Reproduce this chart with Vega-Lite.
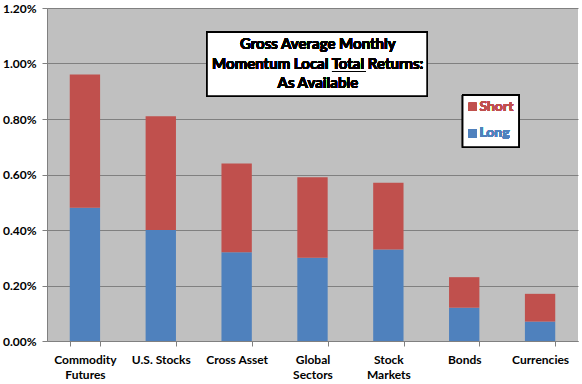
{
  "$schema": "https://vega.github.io/schema/vega-lite/v6.json",
  "autosize": "none",
  "width": 531,
  "height": 333,
  "padding": {"left": 47, "top": 8, "right": 4, "bottom": 43},
  "background": "white",
  "config": {
    "view": {"fill": "#C0C0C0", "stroke": null},
    "font": "Lato"
  },
  "data": {
    "values": [
      {"category": "Commodity Futures", "side": "Long", "ret": 0.0048},
      {"category": "Commodity Futures", "side": "Short", "ret": 0.0048},
      {"category": "U.S. Stocks", "side": "Long", "ret": 0.0040},
      {"category": "U.S. Stocks", "side": "Short", "ret": 0.0041},
      {"category": "Cross Asset", "side": "Long", "ret": 0.0032},
      {"category": "Cross Asset", "side": "Short", "ret": 0.0032},
      {"category": "Global Sectors", "side": "Long", "ret": 0.0030},
      {"category": "Global Sectors", "side": "Short", "ret": 0.0029},
      {"category": "Stock Markets", "side": "Long", "ret": 0.0033},
      {"category": "Stock Markets", "side": "Short", "ret": 0.0024},
      {"category": "Bonds", "side": "Long", "ret": 0.0012},
      {"category": "Bonds", "side": "Short", "ret": 0.0011},
      {"category": "Currencies", "side": "Long", "ret": 0.0007},
      {"category": "Currencies", "side": "Short", "ret": 0.0010}
    ]
  },
  "resolve": {"scale": {"x": "independent"}},
  "layer": [
    {
      "mark": {"type": "bar"},
      "encoding": {
        "x": {
          "field": "category", "type": "nominal", "sort": null,
          "scale": {"paddingInner": 0.6, "paddingOuter": 0.3},
          "axis": {
            "title": null, "labelAngle": 0, "labelFont": "Lato", "labelFontWeight": "bold",
            "labelFontSize": 12, "labelColor": "black", "labelPadding": 8, "labelLineHeight": 15,
            "domainColor": "#808080", "tickColor": "#808080", "tickBand": "extent", "tickSize": 5,
            "labelExpr": "!isValid(datum.value) ? '' : (indexof(['U.S. Stocks','Cross Asset'], datum.value) >= 0 ? datum.value : split(datum.value, ' '))"
          }
        },
        "y": {
          "field": "ret", "type": "quantitative", "stack": "zero",
          "scale": {"domain": [0, 0.012], "nice": false},
          "axis": {
            "title": null, "format": ".2%", "values": [0, 0.002, 0.004, 0.006, 0.008, 0.01, 0.012],
            "labelFont": "Lato", "labelFontWeight": "bold", "labelFontSize": 12, "labelColor": "black",
            "gridColor": "#808080", "gridWidth": 1, "domainColor": "#808080", "tickColor": "#808080",
            "tickSize": 5, "labelPadding": 6
          }
        },
        "color": {
          "field": "side", "type": "nominal",
          "scale": {"domain": ["Long", "Short"], "range": ["#4F81BD", "#C0504D"]},
          "legend": null
        },
        "order": {"field": "side", "sort": "ascending"}
      }
    },
    {
      "layer": [
        {
          "mark": {"type": "rect", "fill": "white", "stroke": "black", "strokeWidth": 1.5, "zindex": 2},
          "encoding": {
            "x": {"datum": 2.11, "type": "quantitative", "scale": {"domain": [0, 7], "nice": false, "zero": false}, "axis": null},
            "x2": {"datum": 5.01},
            "y": {"datum": 0.00883, "type": "quantitative"},
            "y2": {"datum": 0.01113}
          }
        },
        {
          "mark": {"type": "text", "font": "Lato", "fontWeight": "bold", "fontSize": 15, "align": "center", "baseline": "alphabetic", "fill": "black", "zindex": 3, "text": "Gross Average Monthly"},
          "encoding": {
            "x": {"datum": 3.57, "type": "quantitative"},
            "y": {"datum": 0.010511, "type": "quantitative"}
          }
        },
        {
          "mark": {"type": "text", "font": "Lato", "fontWeight": "bold", "fontSize": 15, "align": "center", "baseline": "alphabetic", "fill": "black", "zindex": 3, "text": "Momentum Local Total Returns:"},
          "encoding": {
            "x": {"datum": 3.57, "type": "quantitative"},
            "y": {"datum": 0.00979, "type": "quantitative"}
          }
        },
        {
          "mark": {"type": "text", "font": "Lato", "fontWeight": "bold", "fontSize": 15, "align": "center", "baseline": "alphabetic", "fill": "black", "zindex": 3, "text": "As Available"},
          "encoding": {
            "x": {"datum": 3.57, "type": "quantitative"},
            "y": {"datum": 0.009106, "type": "quantitative"}
          }
        },
        {
          "mark": {"type": "rule", "color": "black", "strokeWidth": 1.2, "zindex": 3},
          "encoding": {
            "x": {"datum": 3.757, "type": "quantitative"},
            "x2": {"datum": 4.2},
            "y": {"datum": 0.009712, "type": "quantitative"}
          }
        },
        {
          "mark": {"type": "rect", "fill": "white", "stroke": "black", "strokeWidth": 1.5, "zindex": 2},
          "encoding": {
            "x": {"datum": 5.48, "type": "quantitative"},
            "x2": {"datum": 6.22},
            "y": {"datum": 0.00699, "type": "quantitative"},
            "y2": {"datum": 0.00886}
          }
        },
        {
          "mark": {"type": "square", "size": 64, "opacity": 1, "filled": true, "zindex": 3},
          "encoding": {
            "x": {"datum": 5.61, "type": "quantitative"},
            "y": {"datum": 0.00844, "type": "quantitative"},
            "color": {"value": "#C0504D"}
          }
        },
        {
          "mark": {"type": "square", "size": 64, "opacity": 1, "filled": true, "zindex": 3},
          "encoding": {
            "x": {"datum": 5.61, "type": "quantitative"},
            "y": {"datum": 0.00748, "type": "quantitative"},
            "color": {"value": "#4F81BD"}
          }
        },
        {
          "mark": {"type": "text", "font": "Lato", "fontWeight": "bold", "fontSize": 14, "align": "left", "baseline": "middle", "text": "Short", "zindex": 3},
          "encoding": {
            "x": {"datum": 5.7, "type": "quantitative"},
            "y": {"datum": 0.00844, "type": "quantitative"},
            "color": {"value": "#C0504D"}
          }
        },
        {
          "mark": {"type": "text", "font": "Lato", "fontWeight": "bold", "fontSize": 14, "align": "left", "baseline": "middle", "text": "Long", "zindex": 3},
          "encoding": {
            "x": {"datum": 5.7, "type": "quantitative"},
            "y": {"datum": 0.00748, "type": "quantitative"},
            "color": {"value": "#4F81BD"}
          }
        }
      ]
    }
  ]
}
